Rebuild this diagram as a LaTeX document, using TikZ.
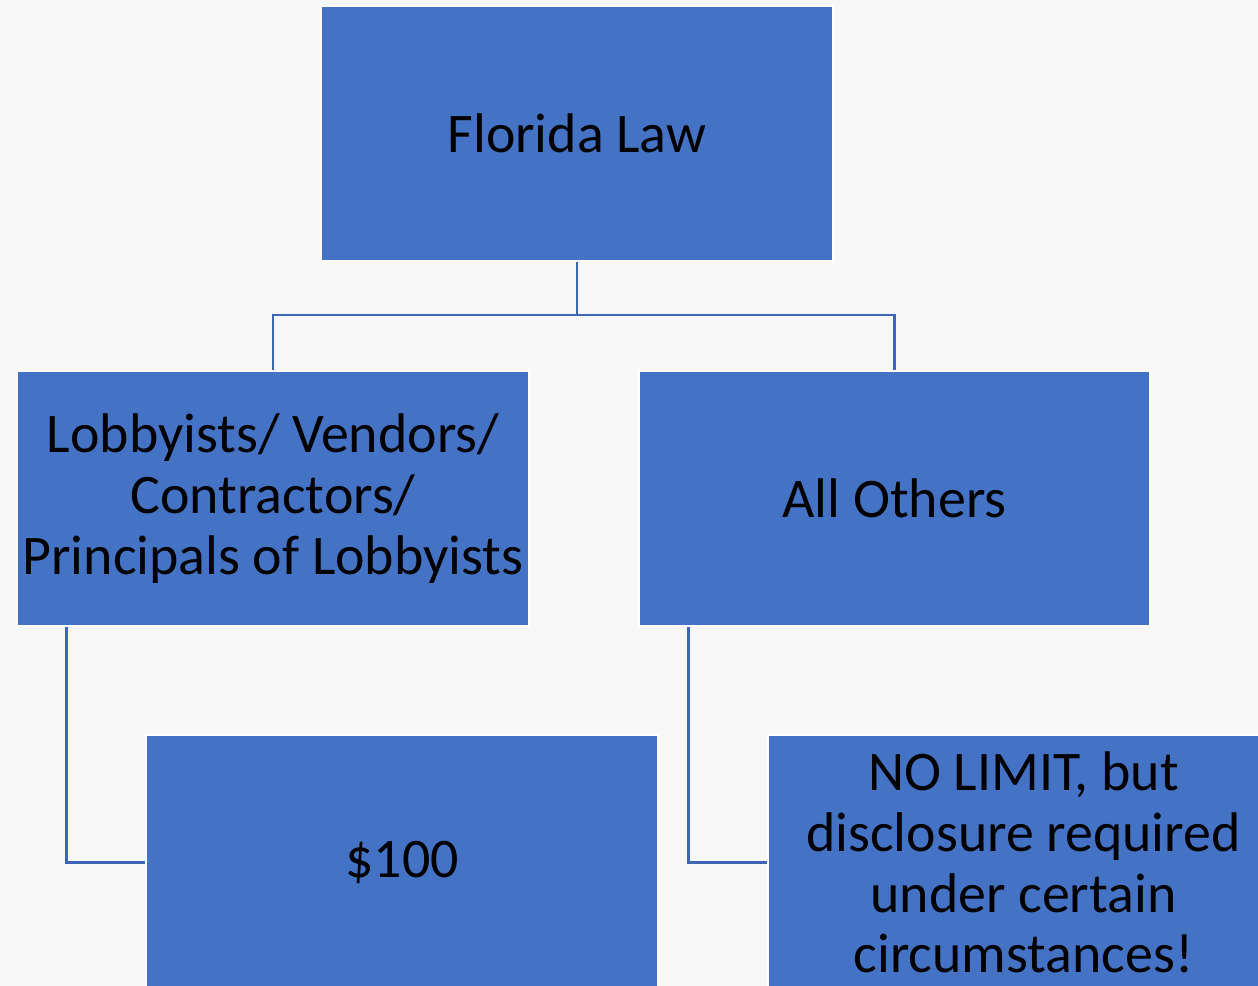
\documentclass[tikz,border=0pt]{standalone}
\usepackage{fontspec}
\setmainfont{Carlito}
\usepackage{tikz}

\definecolor{boxblue}{HTML}{4472C4}
\definecolor{linkblue}{HTML}{3D66B4}
\definecolor{backgray}{HTML}{F8F8F8}

\begin{document}
\begin{tikzpicture}[x=0.02cm, y=-0.02cm,
    lawbox/.style={draw=white, line width=1.2pt, fill=boxblue, text=black,
        minimum width=10.24cm, minimum height=5.1cm, align=center,
        font=\fontsize{31.8}{34.6}\selectfont, inner sep=0pt},
    link/.style={draw=linkblue, line width=1.7pt}]
        % background of the slide
        \fill[backgray] (0,0) rectangle (1258,986);
        \useasboundingbox (0,0) rectangle (1258,986);
        \clip (0,0) rectangle (1258,986);

        % boxes
        \node[lawbox] (law) at (577,133.5) {Florida Law};
        \node[lawbox] (lobby) at (273,498.5) {Lobbyists/ Vendors/\\Contractors/\\Principals of Lobbyists};
        \node[lawbox] (others) at (894.5,498.5) {All Others};
        \node[lawbox] (hundred) at (402,862.5) {\$100};
        \node[lawbox] (nolimit) at (1023.5,862.5) {NO LIMIT, but\\disclosure required\\under certain\\circumstances!};

        % connectors
        \coordinate (split) at (577,315);
        \draw[link] (law.south) -- (split) -| (lobby.north);
        \draw[link] (split) -| (others.north);
        \draw[link] ([xshift=1.02cm]lobby.south west) |- (hundred.west);
        \draw[link] ([xshift=1.02cm]others.south west) |- (nolimit.west);
    \end{tikzpicture}
\end{document}
